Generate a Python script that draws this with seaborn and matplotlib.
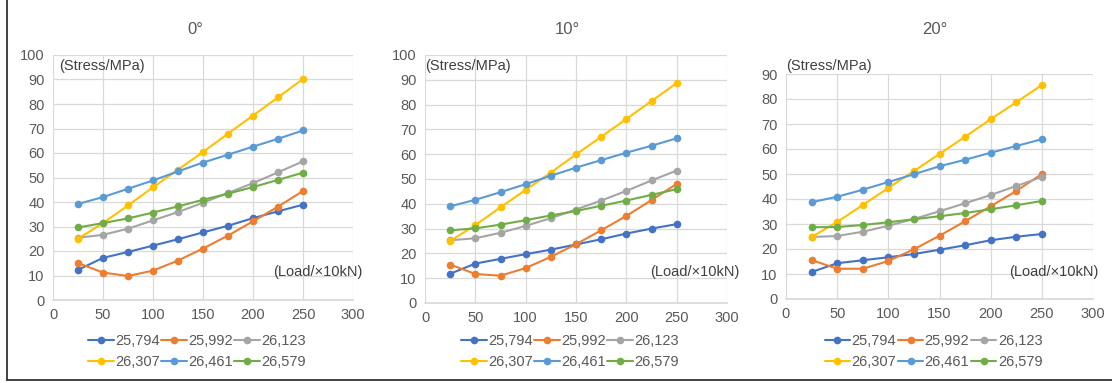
import numpy as np
import pandas as pd
import matplotlib
matplotlib.use("Agg")
import matplotlib.pyplot as plt
from matplotlib.lines import Line2D
import seaborn as sns

# Load steps (x10 kN)
loads = [25, 50, 75, 100, 125, 150, 175, 200, 225, 250]
series_names = ["25,794", "25,992", "26,123", "26,307", "26,461", "26,579"]
panel_titles = ["0°", "10°", "20°"]

# Stress (MPa) per measuring point, inclination 0°
stress_0 = {
    "25,794": [12.3, 17.2, 19.6, 22.2, 24.8, 27.6, 30.3, 33.4, 36.2, 38.9],
    "25,992": [15.1, 11.2, 9.8, 12.0, 16.1, 21.0, 26.3, 32.1, 38.1, 44.5],
    "26,123": [25.4, 26.6, 29.1, 32.5, 35.9, 39.7, 43.7, 47.7, 52.1, 56.6],
    "26,307": [25.0, 31.4, 38.6, 46.0, 53.2, 60.4, 67.9, 75.3, 82.7, 90.2],
    "26,461": [39.2, 42.0, 45.4, 48.8, 52.5, 56.1, 59.3, 62.6, 65.8, 69.2],
    "26,579": [29.6, 31.4, 33.3, 35.7, 38.2, 40.9, 43.4, 46.1, 49.0, 52.0],
}
# Inclination 10°
stress_10 = {
    "25,794": [11.8, 15.9, 17.8, 19.7, 21.5, 23.6, 25.7, 28.0, 30.0, 31.8],
    "25,992": [15.5, 11.7, 11.0, 14.1, 18.6, 23.7, 29.3, 35.1, 41.5, 48.0],
    "26,123": [25.3, 26.1, 28.3, 31.1, 34.2, 37.7, 41.3, 45.2, 49.4, 53.4],
    "26,307": [25.0, 31.4, 38.6, 45.6, 52.6, 59.9, 67.0, 74.2, 81.4, 88.7],
    "26,461": [39.0, 41.6, 44.7, 47.9, 51.3, 54.6, 57.6, 60.6, 63.4, 66.4],
    "26,579": [29.3, 30.1, 31.6, 33.4, 35.3, 37.1, 39.2, 41.3, 43.6, 45.9],
}
# Inclination 20°
stress_20 = {
    "25,794": [10.8, 14.3, 15.5, 16.7, 18.0, 19.7, 21.5, 23.5, 24.9, 26.0],
    "25,992": [15.6, 12.1, 12.1, 15.2, 19.9, 25.3, 31.1, 37.1, 43.2, 50.0],
    "26,123": [24.8, 25.2, 26.9, 29.3, 32.0, 35.1, 38.3, 41.6, 45.2, 48.8],
    "26,307": [24.8, 30.8, 37.6, 44.4, 51.2, 58.0, 64.9, 71.9, 78.7, 85.6],
    "26,461": [38.7, 40.9, 43.7, 46.8, 49.9, 53.1, 55.7, 58.5, 61.2, 63.9],
    "26,579": [28.7, 28.8, 29.6, 30.7, 31.9, 33.1, 34.4, 35.9, 37.5, 39.2],
}
panel_data = [stress_0, stress_10, stress_20]
y_max = [100, 100, 90]

palette = ["#4472C4", "#ED7D31", "#A5A5A5", "#FFC000", "#5B9BD5", "#70AD47"]
text_col = "#595959"
grid_col = "#D9D9D9"

sns.set_theme(style="white")
plt.rcParams["font.family"] = ["Liberation Sans", "DejaVu Sans"]

W, H = 1112, 383
fig = plt.figure(figsize=(W / 100, H / 100), dpi=100)

# Pixel boxes of the plot areas: (left, right, bottom, top)
boxes = [(53, 353, 300, 55), (425, 727, 303, 55), (786, 1093, 299, 74)]
title_x = [195, 567, 935]
stress_pos = [(6, 95.5), (0, 95.6), (0, 93.2)]
load_pos = [(220, 11.4), (224, 12.5), (218, 10.8)]

# legend is filled column by column; this order gives rows of three
row_order = [0, 3, 1, 4, 2, 5]

for i, (data, box) in enumerate(zip(panel_data, boxes)):
    l, r, b, t = box
    ax = fig.add_axes([l / W, 1 - b / H, (r - l) / W, (b - t) / H])
    df = pd.DataFrame(
        [(x, y, name) for name in series_names for x, y in zip(loads, data[name])],
        columns=["load", "stress", "point"],
    )
    sns.lineplot(
        data=df, x="load", y="stress", hue="point", hue_order=series_names,
        palette=palette, marker="o", markersize=5.5, markeredgewidth=0,
        linewidth=1.5, ax=ax, legend=True,
    )
    ax.set_xlim(0, 300)
    ax.set_ylim(0, y_max[i])
    ax.set_xticks(range(0, 301, 50))
    ax.set_yticks(range(0, y_max[i] + 1, 10))
    ax.grid(True, color=grid_col, linewidth=0.9)
    ax.set_axisbelow(True)
    for s in ["top", "right", "left"]:
        ax.spines[s].set_visible(False)
    ax.spines["bottom"].set_color(grid_col)
    ax.tick_params(axis="both", length=0, labelsize=10.5, labelcolor=text_col, pad=6)
    ax.set_xlabel("")
    ax.set_ylabel("")
    ax.text(stress_pos[i][0], stress_pos[i][1], "(Stress/MPa)", fontsize=10.5,
            color="#404040", va="center", ha="left", clip_on=False)
    ax.text(load_pos[i][0], load_pos[i][1], "(Load/×10kN)", fontsize=10.5,
            color="#404040", va="center", ha="left", clip_on=False)
    fig.text(title_x[i] / W, 1 - 29 / H, panel_titles[i], fontsize=12,
             color=text_col, ha="center", va="center")

    handles, labels = ax.get_legend_handles_labels()
    ax.legend_.remove()
    handles = [handles[k] for k in row_order]
    labels = [labels[k] for k in row_order]
    leg_center = ((l + r) / 2 - 6) / W
    fig.legend(handles, labels, loc="center", bbox_to_anchor=(leg_center, 1 - 351.5 / H),
               ncol=3, frameon=False, fontsize=10.5, handlelength=1.75,
               handletextpad=0.1, columnspacing=0.1, labelspacing=0.45,
               labelcolor=text_col, borderpad=0)

# Outer frame edges
fig.add_artist(Line2D([7 / W, 7 / W], [1 - 380 / H, 1.0], color="#333333", linewidth=1.3))
fig.add_artist(Line2D([7 / W, 1.0], [1 - 380 / H, 1 - 380 / H], color="#333333", linewidth=1.3))

fig.savefig("out.png", dpi=100, facecolor="white")
